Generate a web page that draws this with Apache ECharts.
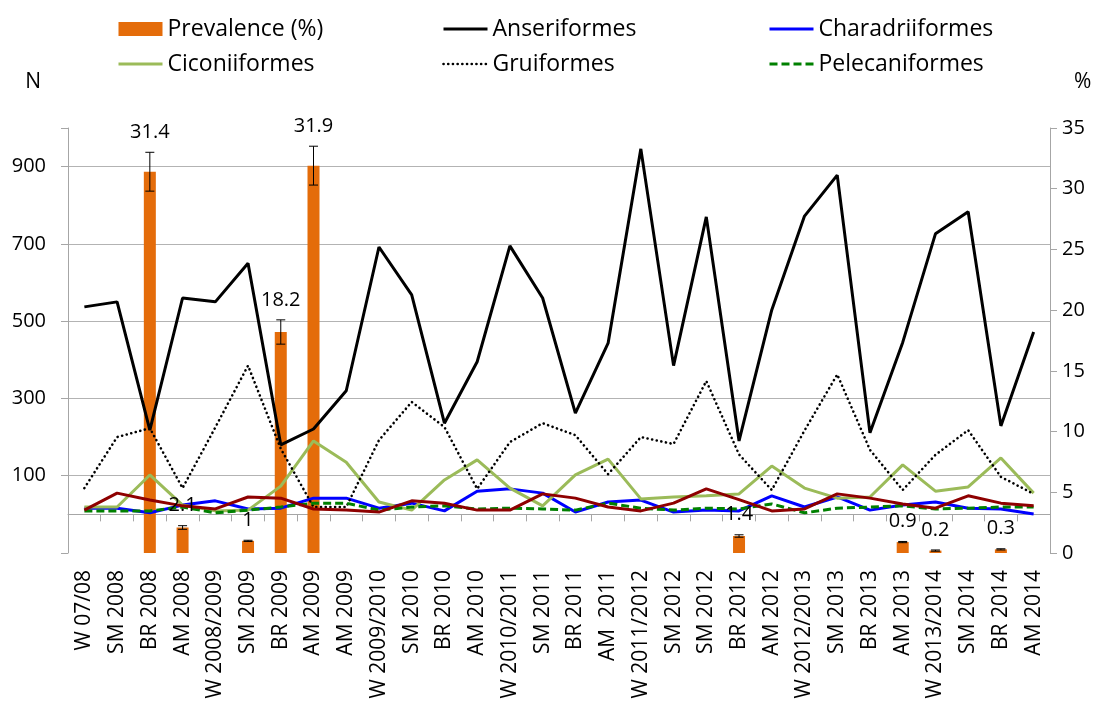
<!DOCTYPE html>
<html>
<head>
<meta charset="utf-8">
<title>Prevalence and bird counts by season</title>
<script src="https://cdn.jsdelivr.net/npm/echarts@6/dist/echarts.min.js"></script>
<style>
  html, body { margin: 0; padding: 0; background: #fff; }
  #chart { width: 1097px; height: 703px; }
</style>
</head>
<body>
<div id="chart"></div>
<script>
// Sampling periods (W = winter, SM = spring migration, BR = breeding, AM = autumn migration)
const periods = [
  'W 07/08', 'SM 2008', 'BR 2008', 'AM 2008', 'W 2008/2009', 'SM 2009', 'BR 2009', 'AM 2009',
  'AM 2009', 'W 2009/2010', 'SM 2010', 'BR 2010', 'AM 2010', 'W 2010/2011', 'SM 2011', 'BR 2011',
  'AM  2011', 'W 2011/2012', 'SM 2012', 'SM 2012', 'BR 2012', 'AM 2012', 'W 2012/2013', 'SM 2013',
  'BR 2013', 'AM 2013', 'W 2013/2014', 'SM 2014', 'BR 2014', 'AM 2014'
];

// Prevalence (%) per period and its error margin
const prevalence = [
  null, null, 31.4, 2.1, null, 1, 18.2, 31.9,
  null, null, null, null, null, null, null, null,
  null, null, null, null, 1.4, null, null, null,
  null, 0.9, 0.2, null, 0.3, null
];
const prevalenceError = [
  null, null, 1.6, 0.15, null, 0.05, 1.0, 1.6,
  null, null, null, null, null, null, null, null,
  null, null, null, null, 0.1, null, null, null,
  null, 0.05, 0.05, null, 0.05, null
];

// Number of birds sampled per order (N)
const anseriformes = [
  537, 550, 218, 560, 550, 650, 180, 221, 320, 692, 568, 236, 395, 695, 560,
  262, 443, 946, 385, 770, 190, 529, 772, 878, 211, 445, 726, 783, 229, 472
];
const charadriiformes = [
  16, 16, 4, 24, 35, 14, 16, 42, 42, 16, 29, 9, 60, 66, 55,
  6, 32, 37, 6, 11, 9, 48, 19, 45, 11, 24, 32, 16, 14, 1
];
const ciconiiformes = [
  19, 19, 102, 24, 9, 11, 73, 190, 135, 32, 11, 89, 141, 68, 22,
  102, 143, 40, 45, 48, 53, 125, 68, 42, 45, 128, 60, 71, 146, 55
];
const gruiformes = [
  68, 200, 223, 68, 225, 385, 170, 19, 19, 192, 291, 226, 66, 187, 236,
  205, 104, 200, 182, 345, 155, 63, 217, 362, 167, 63, 154, 218, 97, 53
];
const pelecaniformes = [
  9, 9, 9, 19, 4, 11, 19, 29, 29, 11, 19, 22, 14, 16, 14,
  11, 29, 16, 11, 16, 14, 27, 4, 16, 19, 22, 14, 16, 19, 19
];
const otherOrders = [
  11, 55, 37, 22, 14, 45, 42, 14, 11, 6, 35, 29, 11, 11, 53,
  42, 19, 9, 29, 66, 38, 9, 14, 53, 42, 27, 16, 48, 29, 22
];

const FONT = '"Open Sans", "Liberation Sans", sans-serif';
const AXIS_GREY = '#A6A6A6';

const errorItems = prevalence
  .map((v, i) => (v == null ? null : [i, v, prevalenceError[i]]))
  .filter(Boolean);

function lineSeries(name, data, color, extra) {
  return Object.assign({
    name: name,
    type: 'line',
    yAxisIndex: 0,
    data: data,
    symbol: 'none',
    showSymbol: false,
    smooth: false,
    lineStyle: { color: color, width: 3 },
    itemStyle: { color: color },
    z: 3
  }, extra || {});
}

// legend entries for line series show only the stroke, without a marker
function lineEntry(name, width) {
  return { name: name, itemStyle: { opacity: 0 }, lineStyle: { width: width || 3 } };
}

const legendText = { fontFamily: FONT, fontSize: 23, color: '#000', lineHeight: 24 };
function legendColumn(left, names) {
  return {
    orient: 'vertical',
    left: left,
    top: 12,
    itemWidth: 44,
    itemHeight: 14,
    itemGap: 11,
    selectedMode: false,
    textStyle: legendText,
    data: names
  };
}

const chart = echarts.init(document.getElementById('chart'), null, { renderer: 'canvas' });

chart.setOption({
  animation: false,
  backgroundColor: '#fff',
  textStyle: { fontFamily: FONT },
  legend: [
    legendColumn(112, [{ name: 'Prevalence (%)', icon: 'rect' }, lineEntry('Ciconiiformes')]),
    legendColumn(437, [lineEntry('Anseriformes'), lineEntry('Gruiformes', 2.6)]),
    legendColumn(763, [lineEntry('Charadriiformes'), lineEntry('Pelecaniformes')])
  ],
  grid: { left: 68, right: 47, top: 128, bottom: 150, containLabel: false },
  xAxis: {
    type: 'category',
    data: periods,
    boundaryGap: true,
    axisLine: { show: true, lineStyle: { color: AXIS_GREY, width: 1 } },
    axisTick: { show: true, alignWithLabel: false, length: 7, lineStyle: { color: AXIS_GREY } },
    axisLabel: {
      interval: 0,
      rotate: 90,
      margin: 17,
      color: '#000',
      fontFamily: FONT,
      fontSize: 21
    },
    splitLine: { show: false }
  },
  yAxis: [
    {
      type: 'value',
      name: 'N',
      nameLocation: 'end',
      nameGap: 46,
      nameTextStyle: {
        color: '#000', fontFamily: FONT, fontSize: 21,
        align: 'right', verticalAlign: 'middle', padding: [0, 27, 0, 0]
      },
      min: -100,
      max: 1000,
      interval: 200,
      axisLine: { show: true, lineStyle: { color: AXIS_GREY, width: 1 } },
      axisTick: { show: true, inside: false, length: 7, lineStyle: { color: AXIS_GREY } },
      axisLabel: {
        margin: 22,
        color: '#000',
        fontFamily: FONT,
        fontSize: 20,
        formatter: v => (v < 0 || v > 900 ? '' : String(v))
      },
      splitLine: {
        show: true,
        showMinLine: false,
        showMaxLine: false,
        lineStyle: { color: '#B3B3B3', width: 1.2 }
      }
    },
    {
      type: 'value',
      name: '%',
      nameLocation: 'end',
      nameGap: 46,
      nameTextStyle: {
        color: '#000', fontFamily: FONT, fontSize: 21,
        align: 'left', verticalAlign: 'middle', padding: [0, 0, 0, 24]
      },
      position: 'right',
      min: 0,
      max: 35,
      interval: 5,
      axisLine: { show: true, lineStyle: { color: AXIS_GREY, width: 1 } },
      axisTick: { show: true, inside: false, length: 7, lineStyle: { color: AXIS_GREY } },
      axisLabel: { margin: 12, color: '#000', fontFamily: FONT, fontSize: 20 },
      splitLine: { show: false }
    }
  ],
  series: [
    {
      name: 'Prevalence (%)',
      type: 'bar',
      yAxisIndex: 1,
      data: prevalence.map(v => (v == null ? '-' : v)),
      barWidth: 12,
      itemStyle: { color: '#E46C0A' },
      z: 2
    },
    lineSeries('Anseriformes', anseriformes, '#000000'),
    lineSeries('Charadriiformes', charadriiformes, '#0000FF'),
    lineSeries('Ciconiiformes', ciconiiformes, '#9BBB59'),
    lineSeries('Gruiformes', gruiformes, '#000000', {
      lineStyle: { color: '#000000', width: 2.6, type: [0.1, 4.6], cap: 'round' }
    }),
    lineSeries('Pelecaniformes', pelecaniformes, '#008000', {
      lineStyle: { color: '#008000', width: 3, type: [8, 4] }
    }),
    lineSeries('Other orders', otherOrders, '#8E0000'),
    {
      // error bars with the value printed above each prevalence bar
      name: 'Prevalence error',
      type: 'custom',
      yAxisIndex: 1,
      data: errorItems,
      encode: { x: 0, y: 1 },
      z: 5,
      renderItem: function (params, api) {
        const idx = api.value(0);
        const val = api.value(1);
        const err = api.value(2);
        const top = api.coord([idx, val + err]);
        const bot = api.coord([idx, val - err]);
        const cap = 4.5;
        const stroke = { stroke: '#000', lineWidth: 1 };
        return {
          type: 'group',
          children: [
            { type: 'line', shape: { x1: top[0], y1: top[1], x2: bot[0], y2: bot[1] }, style: stroke },
            { type: 'line', shape: { x1: top[0] - cap, y1: top[1], x2: top[0] + cap, y2: top[1] }, style: stroke },
            { type: 'line', shape: { x1: bot[0] - cap, y1: bot[1], x2: bot[0] + cap, y2: bot[1] }, style: stroke },
            {
              type: 'text',
              x: top[0],
              y: top[1] - 10,
              style: {
                text: String(val),
                fill: '#000',
                font: '20px ' + FONT,
                textAlign: 'center',
                textVerticalAlign: 'bottom'
              }
            }
          ]
        };
      }
    }
  ]
});
</script>
</body>
</html>
